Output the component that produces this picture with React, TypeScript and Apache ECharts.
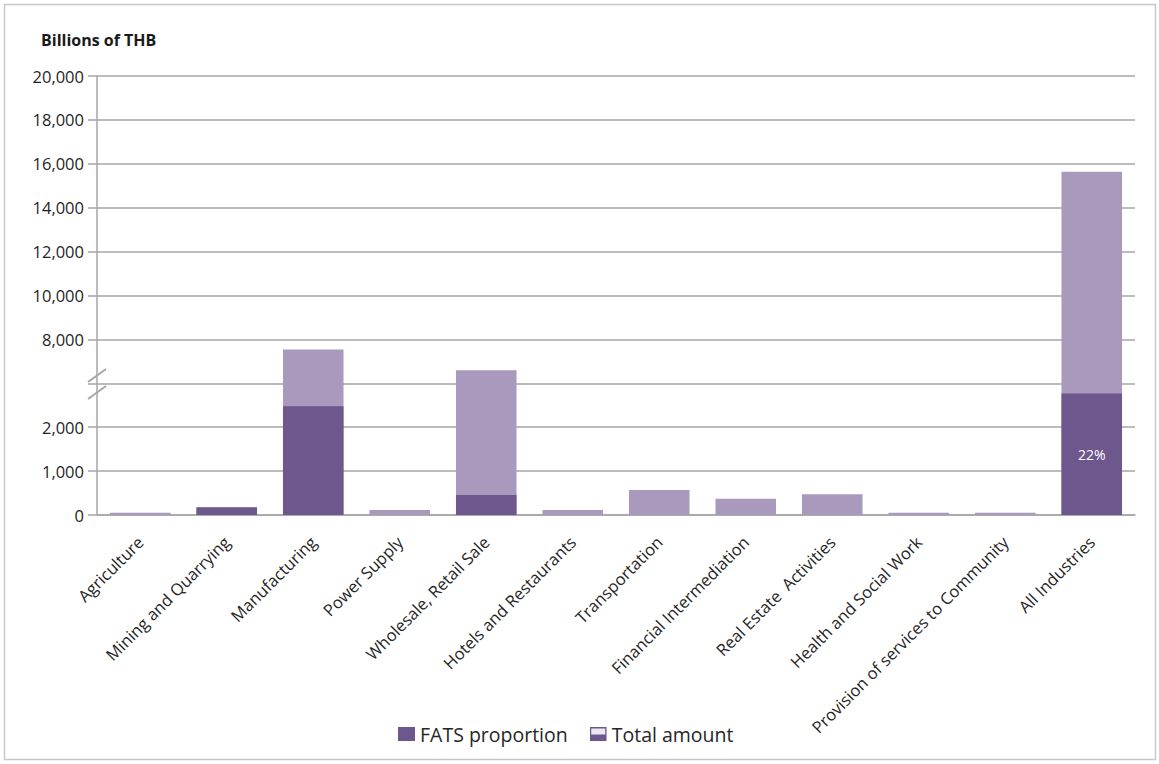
import React, { useEffect, useRef } from "react";
import * as echarts from "echarts";

const categories = [
  "Agriculture",
  "Mining and Quarrying",
  "Manufacturing",
  "Power Supply",
  "Wholesale, Retail Sale",
  "Hotels and Restaurants",
  "Transportation",
  "Financial Intermediation",
  "Real Estate  Activities",
  "Health and Social Work",
  "Provision of services to Community",
  "All Industries",
];

// Billions of THB (broken axis)
const totalAmount = [50, 180, 7545, 115, 6590, 115, 570, 370, 470, 50, 50, 15640];
const fatsProportion = [0, 170, 2480, 0, 455, 0, 0, 0, 0, 0, 0, 2770];
const fatsLabels = ["", "", "", "", "", "", "", "", "", "", "", "22%"];

const tickLabels = ["0", "1,000", "2,000", "", "8,000", "10,000", "12,000", "14,000", "16,000", "18,000", "20,000"];

// broken axis: lower segment 1,000 per step, upper segment 2,000 per step
const toAxis = (v: number) => (v <= 3000 ? v / 1000 : v / 2000);

const DARK = "#6e578c";
const LIGHT = "#a899bd";
const GRID = "#a6a6a6";
const FONT = "'Open Sans', 'Noto Sans', sans-serif";

const totalIcon =
  "image://data:image/svg+xml;utf8," +
  encodeURIComponent(
    `<svg xmlns="http://www.w3.org/2000/svg" width="17" height="14"><rect x="0" y="0" width="17" height="14" fill="${DARK}"/><rect x="1.5" y="1.5" width="14" height="6" fill="#ebe7f0"/></svg>`
  );

export default function App() {
  const ref = useRef<HTMLDivElement>(null);

  useEffect(() => {
    if (!ref.current) return;
    const chart = echarts.init(ref.current, undefined, { renderer: "svg" });
    chart.setOption({
      animation: false,
      backgroundColor: "#ffffff",
      grid: { left: 97, right: 24, top: 76, bottom: 249, containLabel: false },
      legend: {
        bottom: 15,
        left: 393,
        itemWidth: 17,
        itemHeight: 14,
        itemGap: 22,
        textStyle: { fontFamily: FONT, fontSize: 19.5, color: "#262626" },
        data: [
          { name: "FATS proportion", icon: "rect" },
          { name: "Total amount", icon: totalIcon },
        ],
      },
      xAxis: {
        type: "category",
        data: categories,
        axisLine: { show: true, lineStyle: { color: GRID, width: 1.5 } },
        axisTick: { show: false },
        axisLabel: {
          rotate: 45,
          interval: 0,
          margin: 24,
          fontFamily: FONT,
          fontSize: 16.5,
          color: "#262626",
        },
      },
      yAxis: {
        type: "value",
        min: 0,
        max: 10,
        interval: 1,
        axisLine: { show: true, lineStyle: { color: GRID, width: 1.5 } },
        axisTick: { show: true, length: 9, lineStyle: { color: GRID, width: 1.5 } },
        splitLine: { show: true, lineStyle: { color: GRID, width: 1.5 } },
        axisLabel: {
          margin: 13,
          fontFamily: FONT,
          fontSize: 16.5,
          color: "#1f1f1f",
          formatter: (v: number) => tickLabels[Math.round(v)] ?? "",
        },
      },
      graphic: [
        {
          type: "rect",
          shape: { x: 4.5, y: 4.5, width: 1151, height: 755 },
          style: { fill: "none", stroke: "#c8c8c8", lineWidth: 1.5 },
          silent: true,
        },
        {
          type: "text",
          left: 41,
          top: 32,
          style: {
            text: "Billions of THB",
            font: `bold 16px ${FONT}`,
            fill: "#1a1a1a",
          },
        },
        {
          type: "line",
          shape: { x1: 88, y1: 382, x2: 106, y2: 369 },
          style: { stroke: GRID, lineWidth: 2 },
          z: 100,
        },
        {
          type: "line",
          shape: { x1: 88, y1: 399, x2: 106, y2: 386 },
          style: { stroke: GRID, lineWidth: 2 },
          z: 100,
        },
      ],
      series: [
        {
          name: "Total amount",
          type: "bar",
          barWidth: "70%",
          barGap: "-100%",
          itemStyle: { color: LIGHT },
          data: totalAmount.map(toAxis),
          z: 3,
        },
        {
          name: "FATS proportion",
          type: "bar",
          barWidth: "70%",
          barGap: "-100%",
          itemStyle: { color: DARK },
          data: fatsProportion.map(toAxis),
          label: {
            show: true,
            position: "inside",
            color: "#ffffff",
            fontFamily: FONT,
            fontSize: 14,
            formatter: (p: any) => fatsLabels[p.dataIndex],
          },
          z: 4,
        },
      ],
    });
    return () => chart.dispose();
  }, []);

  return (
    <div
      ref={ref}
      style={{ position: "absolute", left: 0, top: 0, width: 1159, height: 764 }}
    />
  );
}
